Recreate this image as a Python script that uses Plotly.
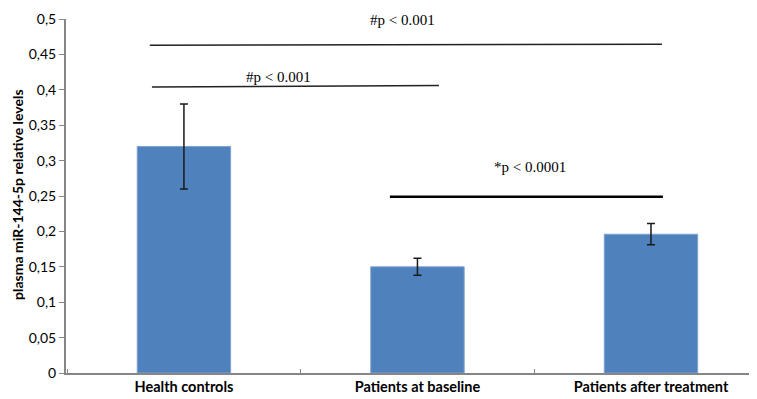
import plotly.graph_objects as go

categories = ["Health controls", "Patients at baseline", "Patients after treatment"]
values = [0.32, 0.15, 0.196]
errors = [0.06, 0.012, 0.015]
y_tickvals = [0, 0.05, 0.1, 0.15, 0.2, 0.25, 0.3, 0.35, 0.4, 0.45, 0.5]
y_ticktext = ["0", "0,05", "0,1", "0,15", "0,2", "0,25", "0,3", "0,35", "0,4", "0,45", "0,5"]
sig_labels = ["#p < 0.001", "#p < 0.001", "*p < 0.0001"]

fig = go.Figure()
fig.add_trace(go.Bar(
    x=categories, y=values,
    marker=dict(color="#4F81BD", line=dict(color="#7fa3d3", width=1)),
    width=0.4,
    error_y=dict(type="data", array=errors, visible=True, color="#1a1a1a",
                 thickness=1.5, width=4),
    showlegend=False,
))

axis_gray = "#868686"
fig.update_layout(
    width=749, height=391,
    margin=dict(l=58, r=0, t=10.5, b=25.7, autoexpand=False),
    paper_bgcolor="white", plot_bgcolor="white",
    font=dict(family="Lato, Open Sans, sans-serif", color="black"),
    xaxis=dict(
        type="category", range=[-0.505, 2.454], showgrid=False,
        showline=True, linecolor=axis_gray, linewidth=2,
        ticks="inside", tickson="boundaries", ticklen=4, tickcolor=axis_gray,
        tickfont=dict(size=14.5, weight="bold", family="Lato, sans-serif"),
        automargin=False,
    ),
    yaxis=dict(
        range=[0, 0.5], tickvals=y_tickvals, ticktext=y_ticktext,
        showgrid=False, zeroline=False,
        showline=True, linecolor=axis_gray, linewidth=2,
        ticks="outside", ticklen=5, tickcolor=axis_gray,
        tickfont=dict(size=14, family="Lato, sans-serif"),
        automargin=False,
    ),
)

# y axis title
fig.add_annotation(
    text="plasma miR-144-5p relative levels", xref="paper", yref="paper",
    x=-0.0695, y=0.503, textangle=-90, showarrow=False,
    xanchor="center", yanchor="middle",
    font=dict(size=14, weight="bold", family="Lato, sans-serif"),
)

# significance lines
fig.add_shape(type="line", xref="x", yref="y", x0=-0.146, y0=0.463, x1=2.047, y1=0.4645,
              line=dict(color="#222222", width=1.5))
fig.add_shape(type="line", xref="x", yref="y", x0=-0.137, y0=0.404, x1=1.092, y1=0.406,
              line=dict(color="#222222", width=1.5))
fig.add_shape(type="line", xref="x", yref="y", x0=0.882, y0=0.249, x1=2.051, y1=0.249,
              line=dict(color="black", width=2.5))

serif = "Liberation Serif, Times New Roman, serif"
fig.add_annotation(text=sig_labels[0], x=0.938, y=0.499, xref="x", yref="y",
                   showarrow=False, font=dict(size=15, family=serif))
fig.add_annotation(text=sig_labels[1], x=0.403, y=0.418, xref="x", yref="y",
                   showarrow=False, font=dict(size=15, family=serif))
fig.add_annotation(text=sig_labels[2], x=1.482, y=0.291, xref="x", yref="y",
                   showarrow=False, font=dict(size=15, family=serif))

fig.write_html("out.html")
